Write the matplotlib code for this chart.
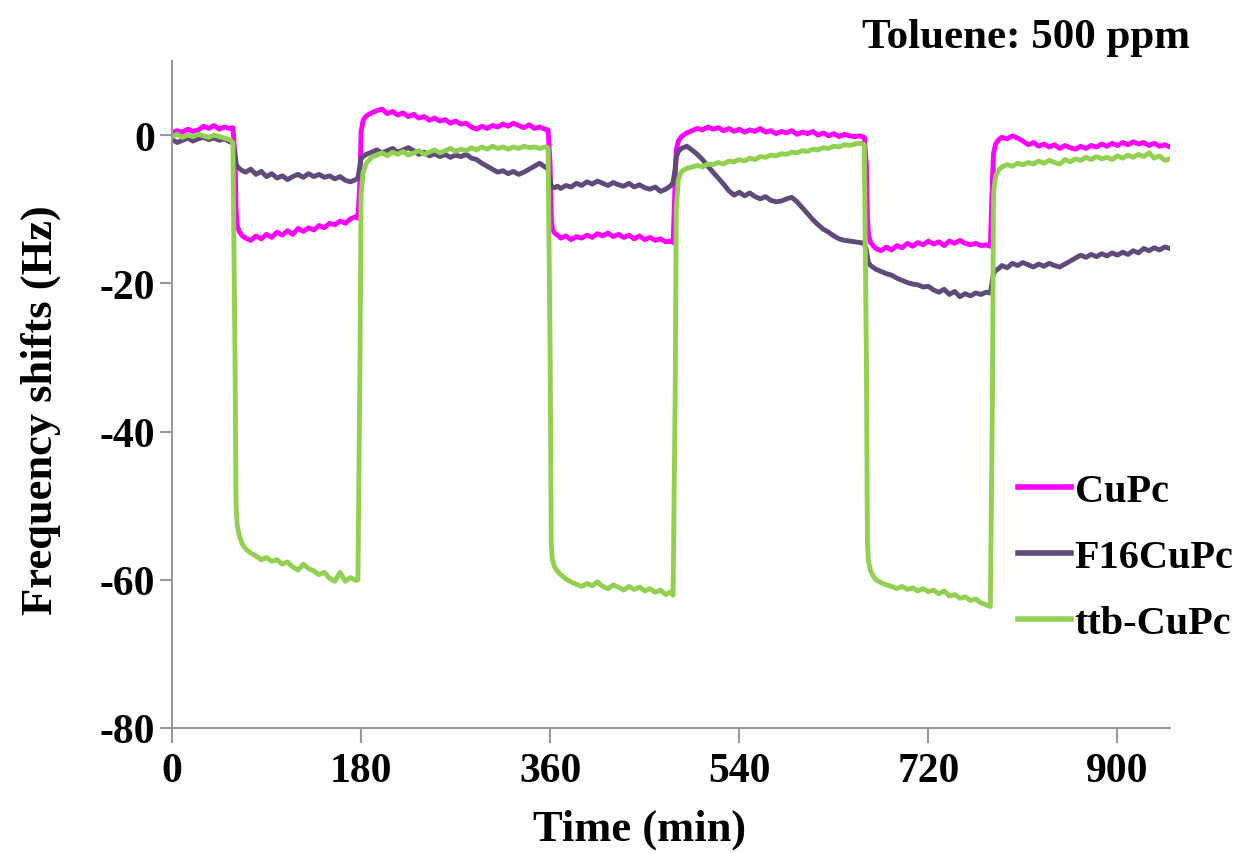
import numpy as np
import matplotlib
matplotlib.use("Agg")
from matplotlib import pyplot as plt

# sampling times (min), one line per exposure/recovery segment
time_min = [0, 5, 10, 15, 20, 25, 30, 35, 40, 45, 50, 55, 58,
            60, 61, 62, 64, 67, 70, 75, 80, 85, 90, 95, 100, 105, 110, 115, 120, 125, 130, 135, 140, 145, 150, 155, 160, 165, 170, 175, 177,
            179, 180, 182, 185, 190, 195, 200, 205, 210, 215, 220, 225, 230, 235, 240, 245, 250, 255, 260, 265, 270, 275, 280, 285, 290, 295, 300, 305, 310, 315, 320, 325, 330, 335, 340, 345, 350, 355, 358,
            360, 361, 362, 364, 367, 370, 375, 380, 385, 390, 395, 400, 405, 410, 415, 420, 425, 430, 435, 440, 445, 450, 455, 460, 465, 470, 475, 477,
            479, 480, 482, 485, 490, 495, 500, 505, 510, 515, 520, 525, 530, 535, 540, 545, 550, 555, 560, 565, 570, 575, 580, 585, 590, 595, 600, 605, 610, 615, 620, 625, 630, 635, 640, 645, 650, 655, 659,
            661, 662, 663, 665, 668, 670, 675, 680, 685, 690, 695, 700, 705, 710, 715, 720, 725, 730, 735, 740, 745, 750, 755, 760, 765, 770, 775, 779,
            781, 782, 784, 787, 790, 795, 800, 805, 810, 815, 820, 825, 830, 835, 840, 845, 850, 855, 860, 865, 870, 875, 880, 885, 890, 895, 900, 905, 910, 915, 920, 925, 930, 935, 940, 945, 950]

cupc = [0.3, 0.6, 0.4, 0.8, 0.5, 0.7, 1.2, 0.9, 1.3, 0.8, 1.1, 0.9, 1.0,
        -3, -10, -12.2, -13.0, -13.6, -13.9, -14.2, -13.6, -14.0, -13.4, -13.8, -13.1, -13.5, -12.9, -13.4, -12.6, -13.0, -12.5, -12.8, -12.2, -12.5, -11.9, -12.1, -11.6, -11.9, -11.3, -11.0, -11.2,
        -6, 0.5, 2.0, 2.6, 3.0, 3.3, 3.5, 2.9, 3.2, 2.7, 3.0, 2.5, 2.8, 2.3, 2.5, 2.0, 2.3, 1.9, 2.1, 1.6, 1.9, 1.5, 1.6, 1.1, 0.8, 1.2, 0.9, 1.3, 1.1, 1.5, 1.2, 1.6, 1.3, 1.0, 1.4, 0.9, 1.1, 0.8, 0.7,
        -4, -11, -12.6, -13.2, -13.5, -13.9, -13.6, -14.1, -13.7, -13.9, -13.5, -13.8, -13.3, -13.6, -13.2, -13.7, -13.4, -13.8, -13.5, -14.0, -13.6, -14.1, -13.8, -14.2, -14.0, -14.4, -14.3, -14.5,
        -6, -2, -0.8, -0.2, 0.3, 0.6, 0.9, 0.7, 1.1, 0.8, 1.0, 0.6, 0.9, 0.5, 0.8, 0.4, 0.7, 0.5, 0.9, 0.4, 0.6, 0.2, 0.5, 0.3, 0.6, 0.1, 0.4, 0.2, 0.5, 0.0, 0.3, -0.1, 0.2, -0.2, 0.1, -0.1, -0.2, -0.1, -0.3,
        -4, -11, -13.5, -14.5, -15.0, -15.3, -15.6, -15.1, -15.5, -14.9, -15.2, -14.6, -15.0, -14.5, -14.8, -14.3, -14.7, -14.4, -14.9, -14.3, -14.6, -14.2, -14.6, -14.8, -14.6, -14.9, -14.8, -15.0,
        -6, -2.5, -1.2, -0.6, -0.3, -0.5, -0.1, -0.4, -0.8, -1.3, -1.0, -1.5, -1.2, -1.6, -1.3, -1.8, -1.4, -1.7, -1.9, -1.5, -1.8, -1.4, -1.6, -1.2, -1.5, -1.1, -1.4, -1.0, -1.3, -0.9, -1.2, -1.0, -1.4, -1.1, -1.5, -1.3, -1.6]

f16cupc = [-0.6, -1.0, -0.7, -0.4, -0.8, -0.5, -0.3, -0.6, -0.4, -0.7, -0.5, -0.9, -1.0,
           -2.5, -3.8, -4.2, -4.5, -4.8, -5.0, -4.6, -5.3, -4.9, -5.6, -5.2, -5.8, -5.5, -6.0, -5.6, -5.3, -5.7, -5.2, -5.6, -5.3, -5.7, -5.5, -5.9, -5.6, -6.1, -6.3, -6.0, -5.8,
           -4.0, -3.2, -2.9, -2.6, -2.3, -2.0, -2.4, -2.1, -1.8, -2.3, -2.0, -1.7, -2.1, -2.6, -2.3, -2.8, -2.5, -2.9, -2.6, -3.0, -2.7, -2.9, -2.6, -3.1, -3.3, -3.8, -4.2, -4.6, -5.0, -4.8, -5.2, -4.9, -5.3, -5.0, -4.6, -4.2, -3.8, -4.3, -4.6,
           -6.0, -6.8, -7.0, -7.1, -6.9, -7.2, -6.8, -7.0, -6.5, -6.8, -6.3, -6.6, -6.2, -6.5, -6.8, -6.4, -6.7, -6.9, -6.5, -7.0, -6.7, -7.1, -7.3, -7.0, -7.6, -7.3, -6.8, -6.4,
           -4.5, -3.0, -2.2, -1.8, -1.5, -2.0, -2.6, -3.3, -4.2, -5.0, -5.8, -6.6, -7.5, -8.1, -7.7, -8.2, -7.8, -8.3, -8.6, -8.3, -8.8, -9.0, -8.9, -8.6, -8.4, -9.0, -9.8, -10.6, -11.4, -12.1, -12.7, -13.1, -13.6, -14.0, -14.2, -14.3, -14.4, -14.5, -14.6,
           -15.5, -16.5, -17.2, -17.6, -17.9, -18.1, -18.4, -18.7, -18.9, -19.3, -19.6, -19.9, -20.1, -20.2, -20.5, -20.4, -20.9, -21.2, -20.8, -21.5, -21.1, -21.8, -21.4, -21.7, -21.3, -21.5, -21.2, -21.3,
           -19.5, -18.7, -18.3, -18.0, -17.6, -17.9, -17.3, -17.6, -17.2, -17.5, -17.8, -17.4, -17.7, -17.3, -17.6, -17.8, -17.4, -17.0, -16.6, -16.2, -16.5, -16.1, -16.4, -16.0, -16.3, -15.9, -16.2, -15.8, -16.1, -15.6, -15.9, -15.3, -15.6, -15.2, -15.5, -15.1, -15.3]

ttb_cupc = [-0.2, 0.1, -0.3, 0.0, -0.2, 0.1, -0.1, -0.3, 0.0, -0.2, -0.4, -0.6, -1.0,
            -30, -50, -52.5, -54, -55.2, -55.8, -56.4, -56.8, -57.3, -57.0, -57.5, -57.3, -57.9, -57.6, -58.3, -58.7, -57.9, -58.5, -58.8, -59.3, -59.0, -59.8, -60.2, -59.0, -60.2, -59.7, -60.1, -60.0,
            -30, -8, -5, -3.8, -3.0, -2.7, -2.4, -2.8, -2.3, -2.6, -2.2, -2.7, -2.4, -2.1, -2.6, -2.3, -2.0, -2.4, -2.1, -1.8, -2.2, -1.9, -2.1, -1.7, -2.0, -1.6, -1.9, -1.5, -1.8, -1.6, -1.9, -1.6, -1.8, -1.5, -1.7, -1.6, -1.8, -1.6, -1.7,
            -30, -55, -57.2, -58.2, -58.9, -59.3, -59.9, -60.3, -60.6, -60.9, -60.5, -60.8, -60.3, -60.9, -61.2, -60.7, -61.0, -61.4, -60.9, -61.3, -61.0, -61.5, -61.2, -61.7, -61.4, -62.0, -61.6, -62.1,
            -35, -10, -6, -4.9, -4.5, -4.3, -4.1, -4.3, -3.9, -4.0, -3.7, -3.9, -3.5, -3.6, -3.3, -3.5, -3.1, -3.3, -2.9, -3.0, -2.7, -2.8, -2.5, -2.6, -2.3, -2.4, -2.1, -2.2, -1.9, -2.0, -1.7, -1.8, -1.5, -1.6, -1.3, -1.4, -1.2, -1.1, -1.3,
            -30, -55, -57.5, -58.8, -59.6, -60.0, -60.4, -60.7, -60.9, -61.2, -60.9, -61.3, -61.1, -61.5, -61.2, -61.6, -61.4, -61.9, -61.5, -62.2, -62.0, -62.5, -62.3, -62.8, -62.6, -63.1, -63.4, -63.6,
            -35, -8, -5.5, -4.7, -4.3, -4.0, -4.2, -3.8, -4.0, -3.7, -3.9, -3.5, -3.8, -3.4, -3.7, -3.9, -3.3, -3.6, -3.2, -3.4, -3.0, -3.3, -2.9, -3.2, -3.0, -3.3, -2.8, -3.1, -2.7, -3.0, -2.6, -2.9, -2.4, -3.1, -2.8, -3.4, -3.2]

series_names = ["CuPc", "F16CuPc", "ttb-CuPc"]
series_colors = ["#FF00FF", "#604A7B", "#92D050"]
x_ticks = [0, 180, 360, 540, 720, 900]
y_ticks = [0, -20, -40, -60, -80]

plt.rcParams['font.family'] = ['Liberation Serif', 'DejaVu Serif']
plt.rcParams['font.weight'] = 'bold'
plt.rcParams['axes.unicode_minus'] = False

fig = plt.figure(figsize=(12.39, 8.54), dpi=100)
ax = fig.add_axes([0.1388, 0.1464, 0.8055, 0.781])

for vals, name, col in zip([cupc, f16cupc, ttb_cupc], series_names, series_colors):
    ax.plot(time_min, vals, color=col, lw=3.5, label=name)

ax.set_xlim(0, 950)
ax.set_ylim(-80, 10)
ax.set_xticks(x_ticks)
ax.set_yticks(y_ticks)
ax.tick_params(axis='both', direction='out', color='#999999', width=1.5, labelsize=30)
ax.tick_params(axis='x', length=11, pad=6)
ax.tick_params(axis='y', length=9, pad=3)
for s in ['top', 'right']:
    ax.spines[s].set_visible(False)
for s in ['left', 'bottom']:
    ax.spines[s].set_color('#999999')
    ax.spines[s].set_linewidth(1.5)

fig.text(0.516, 0.028, "Time (min)", ha='center', va='center', fontsize=32, fontweight='bold')
fig.text(0.033, 0.52, "Frequency shifts (Hz)", ha='center', va='center', rotation=90, fontsize=32, fontweight='bold')
fig.text(0.9605, 0.955, "Toluene: 500 ppm", ha='right', va='center', fontsize=31, fontweight='bold')

leg = ax.legend(loc='center left', bbox_to_anchor=(0.832, 0.256), frameon=False, fontsize=29,
                handlelength=1.3, handletextpad=0.1, labelspacing=0.72, borderaxespad=0)
for line in leg.get_lines():
    line.set_linewidth(4)

fig.savefig("out.png", dpi=100)
